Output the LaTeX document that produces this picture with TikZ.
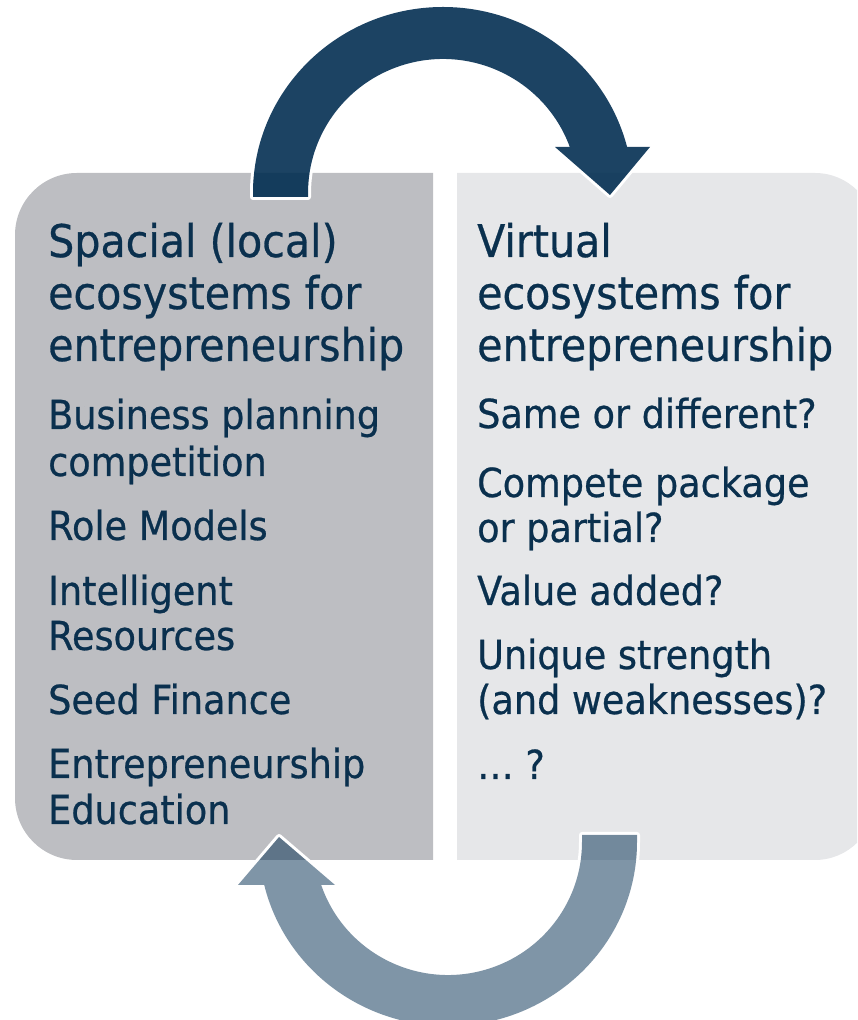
\documentclass[tikz,border=0pt]{standalone}
\usepackage{fontspec}
\setmainfont{DejaVu Sans}[FakeStretch=0.915,FakeBold=0.6]
\usepackage{xcolor}
\usepackage{tikz}
\definecolor{C0}{HTML}{002C50}
\definecolor{C1}{HTML}{0A304E}
\definecolor{C2}{HTML}{BDBEC2}
\definecolor{C3}{HTML}{E6E7E9}

\begin{document}
\begin{tikzpicture}[x=1pt,y=1pt,
  title/.style={anchor=base west,inner sep=0pt,text=C1,font=\fontsize{45}{52}\selectfont},
  item/.style={anchor=base west,inner sep=0pt,text=C1,font=\fontsize{40}{46}\selectfont}]
\def \xL {48}
\def \xR {477}
\def \topArrow {(253,823)--(253,827) arc[start angle=180,end angle=14.32,x radius=190pt,y radius=186pt]
  --(650,873)--(610,825)--(555,873)--(569.8,873)
  arc[start angle=20.08,end angle=180,x radius=135pt,y radius=134pt]--(308,823)--cycle}
\def \botArrow {(637,185)--(637,178) arc[start angle=0,end angle=-166.49,x radius=189pt,y radius=184pt]
  --(238,135)--(279,183)--(335,135)--(321.2,135)
  arc[start angle=-161.14,end angle=0,x radius=134pt,y radius=133pt]--(582,185)--cycle}
\useasboundingbox (0,0) rectangle (857,1020);
\clip (0,0) rectangle (857,1020);
% boxes
\begin{scope}
\clip (0,0) rectangle (433,1020);
\fill[C2, rounded corners=62pt] (15,160) rectangle (520,847);
\end{scope}
\begin{scope}
\clip (457,0) rectangle (900,1020);
\fill[C3, rounded corners=60pt] (380,160) rectangle (875,847);
\end{scope}
% arrows
\begin{scope}[even odd rule]
\clip (-10,-10) rectangle (900,1030) \topArrow;
\draw[white, line width=6pt, line join=round] \topArrow;
\end{scope}
\fill[C0, opacity=0.89] \topArrow;
\begin{scope}[even odd rule]
\clip (-10,-10) rectangle (900,1030) \botArrow;
\draw[white, line width=6pt, line join=round] \botArrow;
\end{scope}
\fill[C0, opacity=0.5] \botArrow;
% left column
\node[title] (sp1) at (\xL,763) {Spacial (local)};
\node[title] (sp2) at (\xL,711) {ecosystems for};
\node[title] (sp3) at (\xL,659) {entrepreneurship};
\node[item] (bp1) at (\xL,591) {Business planning};
\node[item] (bp2) at (\xL,544) {competition};
\node[item] (rm) at (\xL,480) {Role Models};
\node[item] (ir1) at (\xL,415) {Intelligent};
\node[item] (ir2) at (\xL,370) {Resources};
\node[item] (sf) at (\xL,306) {Seed Finance};
\node[item] (ee1) at (\xL,242) {Entrepreneurship};
\node[item] (ee2) at (\xL,196) {Education};
% right column
\node[title] (vi1) at (\xR,763) {Virtual};
\node[title] (vi2) at (\xR,711) {ecosystems for};
\node[title] (vi3) at (\xR,659) {entrepreneurship};
\node[item] (sd) at (\xR,592) {Same or different?};
\node[item] (cp1) at (\xR,523) {Compete package};
\node[item] (cp2) at (\xR,478) {or partial?};
\node[item] (va) at (\xR,415) {Value added?};
\node[item] (us1) at (\xR,351) {Unique strength};
\node[item] (us2) at (\xR,306) {(and weaknesses)?};
\node[item] (etc) at (\xR,241) {… ?};
\end{tikzpicture}
\end{document}
